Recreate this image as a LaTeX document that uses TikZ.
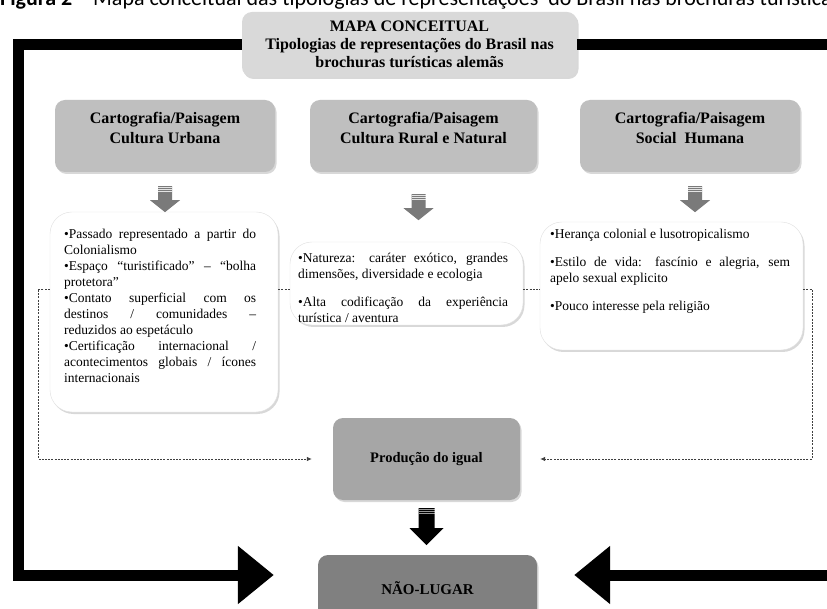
\documentclass[tikz,border=0pt]{standalone}
\usepackage{fontspec}
\setmainfont{Liberation Serif}
\newfontfamily\capfont{Carlito}
\usetikzlibrary{arrows.meta,shadows,calc}
\definecolor{titlegray}{HTML}{D9D9D9}
\definecolor{catgray}{HTML}{BFBFBF}
\definecolor{prodgray}{HTML}{A6A6A6}
\definecolor{naogray}{HTML}{808080}
\definecolor{arrowgray}{HTML}{7A7A7A}
\definecolor{dashgray}{HTML}{404040}
\tikzset{
  shadowed/.style={drop shadow={shadow xshift=1.5pt, shadow yshift=-2pt, opacity=0.3}},
  graybox/.style={shadowed, rounded corners=10pt, inner sep=0pt},
  txtbox/.style={shadowed, rounded corners=22pt, fill=white, draw=black!12, inner sep=0pt},
  headtext/.style={font=\bfseries\fontsize{16}{19.5}\selectfont, align=center, inner sep=0pt},
  bodytext/.style={font=\fontsize{13.5}{16}\selectfont, align=justify, inner sep=0pt, anchor=north west},
  dline/.style={draw=dashgray, line width=0.8pt, dash pattern=on 2pt off 1.2pt},
  dtip/.style={-{Latex[length=5pt,width=4.5pt]}},
  bigline/.style={line width=11pt, draw=black, line join=miter},
  bigtip/.style={-{Triangle[length=36pt,width=56pt]}},
  pics/garrow/.style={code={
    \fill[arrowgray] (-7,0) -- (7,0) -- (7,14) -- (15,14) -- (0,26) -- (-15,14) -- (-7,14) -- cycle;
    \draw[white, line width=0.6pt, opacity=0.8] (-7,1.5) -- (7,1.5) (-7,3.5) -- (7,3.5) (-7,5.5) -- (7,5.5);
  }},
  pics/barrow/.style={code={
    \fill[black] (-8,0) -- (8,0) -- (8,20) -- (17,20) -- (0,37) -- (-17,20) -- (-8,20) -- cycle;
    \draw[white, line width=0.6pt, opacity=0.6] (-8,1.5) -- (8,1.5) (-8,3.5) -- (8,3.5) (-8,5.5) -- (8,5.5);
  }},
}
\begin{document}
\begin{tikzpicture}[x=1pt,y=-1pt]
\useasboundingbox (0,0) rectangle (827,609);
\fill[white] (0,0) rectangle (827,609);

% caption (cut off at the top of the picture)
\node[anchor=base west, inner sep=0pt, font=\capfont\fontsize{22}{26}\selectfont] (cap) at (0,6)
  {\textbf{Figura 2} – Mapa conceitual das tipologias de representações\ \ do Brasil nas brochuras turísticas alemãs};

% boxes
\node[graybox, fill=titlegray, minimum width=335pt, minimum height=65pt] (title) at (409.5,44.5) {};
\node[headtext, font=\bfseries\fontsize{16}{18}\selectfont] (titlet) at (409.5,44)
  {MAPA CONCEITUAL\\Tipologias de representações do Brasil nas\\brochuras turísticas alemãs};

\node[graybox, fill=catgray, minimum width=220pt, minimum height=72pt] (catL) at (165,136) {};
\node[graybox, fill=catgray, minimum width=227pt, minimum height=72pt] (catM) at (423.5,136) {};
\node[graybox, fill=catgray, minimum width=220pt, minimum height=72pt] (catR) at (690,136) {};
\node[headtext] (catLt) at (165,128) {Cartografia/Paisagem\\Cultura Urbana};
\node[headtext] (catMt) at (423.5,128) {Cartografia/Paisagem\\Cultura Rural e Natural};
\node[headtext] (catRt) at (690,128) {Cartografia/Paisagem\\Social\ \ Humana};

\node[txtbox, minimum width=228pt, minimum height=200pt] (txtL) at (164,312) {};
\node[txtbox, minimum width=233pt, minimum height=83pt] (txtM) at (406.5,283.5) {};
\node[txtbox, minimum width=263pt, minimum height=128pt] (txtR) at (671.5,286) {};

\node[bodytext, text width=192pt] (txtLt) at (64,228.5)
  {\parindent=0pt •Passado representado a partir do\linebreak Colonialismo\par
   •Espaço “turistificado” – “bolha\linebreak protetora”\par
   •Contato superficial com os\linebreak destinos / comunidades –\linebreak reduzidos ao espetáculo\par
   •Certificação internacional /\linebreak acontecimentos globais / ícones\linebreak internacionais};
\node[bodytext, text width=210pt] (txtMt) at (298,252.5)
  {\parindent=0pt \parskip=12pt •Natureza: caráter exótico, grandes\linebreak dimensões, diversidade e ecologia\par
   •Alta codificação da experiência\linebreak turística / aventura};
\node[bodytext, text width=240pt] (txtRt) at (550,228.5)
  {\parindent=0pt \parskip=12pt •Herança colonial e lusotropicalismo\par
   •Estilo de vida: fascínio e alegria, sem\linebreak apelo sexual explicito\par
   •Pouco interesse pela religião};

\node[graybox, fill=prodgray, minimum width=187pt, minimum height=82pt] (prod) at (426.5,459)
  {\bfseries\fontsize{14.5}{17}\selectfont Produção do igual};
\node[graybox, fill=naogray, minimum width=219pt, minimum height=70pt] (nao) at (427.5,590) {};
\node[headtext, font=\bfseries\fontsize{15}{17}\selectfont] (naot) at (427.5,588) {NÃO-LUGAR};

% block arrows
\pic at ($(catL.south)+(0,14)$) {garrow};
\pic at ($(catM.south)+(-5,22)$) {garrow};
\pic at ($(catR.south)+(5,14)$) {garrow};
\pic at ($(prod.south)+(0,8)$) {barrow};

% dashed connectors
\coordinate (lv) at (38,289);
\coordinate (rv) at (812,289);
\draw[dline, dtip, shorten >=21pt] (txtL.west |- lv) -- (lv) |- (prod.west);
\draw[dline] (txtL.east |- lv) -- (txtM.west |- lv);
\draw[dline] (txtM.east |- lv) -- (txtR.west |- lv);
\draw[dline, dtip, shorten >=20pt] (txtR.east |- rv) -- (rv) |- (prod.east);

% thick black connectors
\coordinate (blc) at (18,575);
\coordinate (trc) at (835,44.5);
\coordinate (brc) at (835,575);
\draw[bigline, bigtip] (title.west) -| (blc) -- ($(nao.west |- blc)+(-44,0)$);
\draw[bigline] (title.east) -- (trc);
\draw[bigline, bigtip] (brc) -- ($(nao.east |- brc)+(37,0)$);
\end{tikzpicture}
\end{document}
